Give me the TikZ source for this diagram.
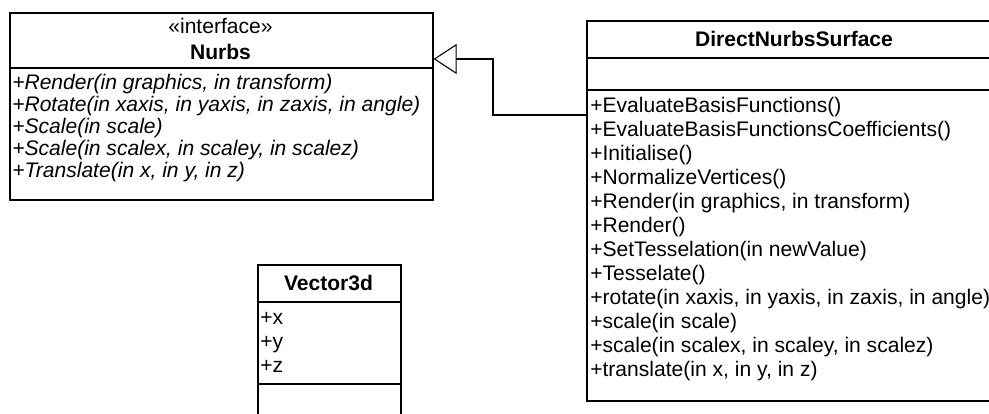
\documentclass[tikz,border=0pt]{standalone}
\usepackage{fontspec}
\setmainfont{Liberation Sans}
\usetikzlibrary{arrows.meta}
\begin{document}
\begin{tikzpicture}[x=0.75pt,y=-0.75pt,
  cls/.style={draw, line width=1.2pt, inner sep=0pt, anchor=north west},
  div/.style={line width=1.2pt},
  txt/.style={anchor=base west, inner sep=0pt, font=\fontsize{15.8pt}{16.5pt}\selectfont},
  itxt/.style={txt, font=\fontsize{15.8pt}{16.5pt}\selectfont\itshape},
  ttl/.style={anchor=base, inner sep=0pt, font=\fontsize{15.8pt}{16.5pt}\selectfont\bfseries},
  stereo/.style={anchor=base, inner sep=0pt, font=\fontsize{15.8pt}{16.5pt}\selectfont},
  gen/.style={line width=0.8pt, -{Triangle[open, length=17.25pt, width=22.5pt, line width=0.8pt]}}
]
\useasboundingbox (0,0) rectangle (989,414);
\clip (0,0) rectangle (989,414);
\fill[white] (0,0) rectangle (989,414);

% Nurbs interface
\node[cls, minimum width=317.25pt, minimum height=140.25pt] (nurbs) at (9,12) {};
\draw[div] (9,68) -- (432,68);
\node[stereo] (nst) at (220.5,33) {«interface»};
\node[ttl] (nttl) at (220.5,59) {Nurbs};
\foreach \t [count=\i from 0] in {{+Render(in graphics, in transform)},{+Rotate(in xaxis, in yaxis, in zaxis, in angle)},{+Scale(in scale)},{+Scale(in scalex, in scaley, in scalez)},{+Translate(in x, in y, in z)}}
  \node[itxt] (nop\i) at (12,89+22*\i) {\t};

% DirectNurbsSurface
\node[cls, minimum width=312pt, minimum height=285pt] (dns) at (586,20) {};
\draw[div] (586,58) -- (1002,58);
\draw[div] (586,90) -- (1002,90);
\node[ttl] (dttl) at (794,46) {DirectNurbsSurface};
\foreach \t [count=\i from 0] in {{+EvaluateBasisFunctions()},{+EvaluateBasisFunctionsCoefficients()},{+Initialise()},{+NormalizeVertices()},{+Render(in graphics, in transform)},{+Render()},{+SetTesselation(in newValue)},{+Tesselate()},{+rotate(in xaxis, in yaxis, in zaxis, in angle)},{+scale(in scale)},{+scale(in scalex, in scaley, in scalez)},{+translate(in x, in y, in z)}}
  \node[txt] (dop\i) at (590,112+24*\i) {\t};

% Vector3d
\node[cls, minimum width=107.25pt, minimum height=126pt] (vec) at (257,264) {};
\draw[div] (257,302) -- (400,302);
\draw[div] (257,384) -- (400,384);
\node[ttl] (vttl) at (328.5,290) {Vector3d};
\node[txt] (va0) at (260,324) {+x};
\node[txt] (va1) at (260,348) {+y};
\node[txt] (va2) at (260,372) {+z};

% generalization
\coordinate (bend1) at (493,115);
\coordinate (bend2) at (493,59);
\draw[gen] (dns.west |- bend1) -- (bend1) -- (bend2) -- (nurbs.east |- bend2);
\end{tikzpicture}
\end{document}
